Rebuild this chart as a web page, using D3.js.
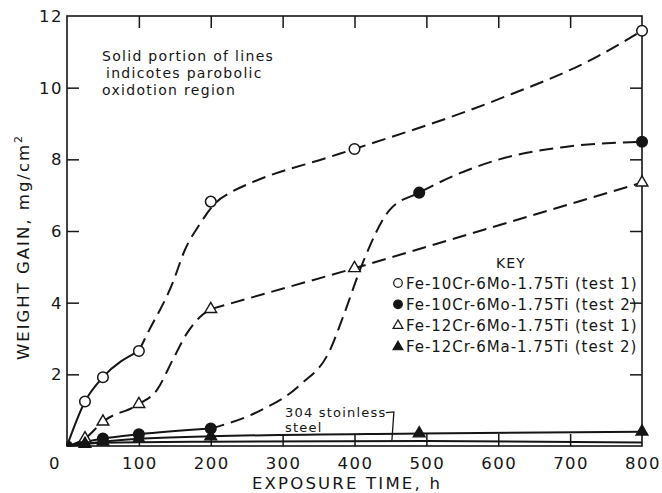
<!DOCTYPE html>
<html><head><meta charset="utf-8">
<script src="https://cdn.jsdelivr.net/npm/d3@7"></script>
<style>
body{margin:0;background:#fff}
svg{display:block}
text{font-family:"DejaVu Sans",sans-serif;fill:#151515}
</style>
</head><body>
<svg id="c" width="662" height="493"></svg>
<script>
// ---------- data ----------
const xTickValues = [0, 100, 200, 300, 400, 500, 600, 700, 800];
const yTickValues = [2, 4, 6, 8, 10, 12];
const seriesLabels = [
  "Fe-10Cr-6Mo-1.75Ti (test 1)",
  "Fe-10Cr-6Mo-1.75Ti (test 2)",
  "Fe-12Cr-6Mo-1.75Ti (test 1)",
  "Fe-12Cr-6Ma-1.75Ti (test 2)"
];
// measured points (markers)
const fe10t1Hours = [25, 50, 100, 200, 400, 800];
const fe10t1Gain  = [1.24, 1.92, 2.65, 6.82, 8.29, 11.59];
const fe10t2Hours = [50, 100, 200, 490, 800];
const fe10t2Gain  = [0.21, 0.33, 0.49, 7.07, 8.49];
const fe12t1Hours = [25, 50, 100, 200, 400, 800];
const fe12t1Gain  = [0.21, 0.68, 1.17, 3.82, 4.96, 7.35];
const fe12t2Hours = [25, 50, 100, 200, 490, 800];
const fe12t2Gain  = [0.06, 0.12, 0.2, 0.27, 0.35, 0.40];
// traced curves (hours, gain)
const fe10t1Solid  = [[0,0],[25,1.24],[50,1.92],[100,2.65]];
const fe10t1Dashed = [[100,2.65],[111,3.10],[147,4.55],[164,5.47],[185,6.2],[205,6.75],[230,7.1],[259,7.37],[366,8.07],[400,8.29],[598,9.66],[737,10.86],[800,11.59]];
const fe10t2Solid  = [[0,0],[50,0.21],[100,0.33],[200,0.49]];
const fe10t2Dashed = [[200,0.49],[268,0.98],[324,1.70],[366,2.68],[384,3.6],[412,5.14],[449,6.59],[490,7.07],[598,7.98],[690,8.34],[800,8.49]];
const fe12t1DashedCurve = [[0,0],[25,0.21],[50,0.68],[100,1.17],[125,1.56],[147,2.40],[167,3.15],[185,3.60],[200,3.82]];
const fe12t1DashedStraight = [[200,3.82],[400,4.96],[800,7.35]];
const fe12t2Solid  = [[0,0],[25,0.06],[50,0.12],[100,0.2],[200,0.27],[490,0.35],[800,0.40]];
const steel304Solid = [[0,0],[50,0.09],[200,0.12],[500,0.14],[800,0.10]];
const noteLines = ["Solid portion of lines", "indicotes parobolic", "oxidotion region"];
const steelLabel = ["304 stoinless", "steel"];

// ---------- layout ----------
const svg = d3.select("#c");
const x = d3.scaleLinear().domain([0, 800]).range([67, 642]);
const y = d3.scaleLinear().domain([0, 12]).range([446, 16]);
const ink = "#151515";

// frame
const [x0, x1] = x.range(), [y0, y1] = y.range();
svg.append("rect").attr("x", x0).attr("y", y1).attr("width", x1 - x0).attr("height", y0 - y1)
  .attr("fill", "none").attr("stroke", ink).attr("stroke-width", 1.6);

// axes with inward ticks
const tl = 12;
svg.append("g").attr("transform", `translate(0,${y0})`)
  .call(d3.axisTop(x).tickValues(xTickValues.slice(1, -1)).tickSize(tl).tickFormat(""))
  .call(g => g.select(".domain").remove());
svg.append("g").attr("transform", `translate(0,${y1})`)
  .call(d3.axisBottom(x).tickValues(xTickValues.slice(1, -1)).tickSize(tl).tickFormat(""))
  .call(g => g.select(".domain").remove());
svg.append("g").attr("transform", `translate(${x0},0)`)
  .call(d3.axisRight(y).tickValues(yTickValues.slice(0, -1)).tickSize(tl).tickFormat(""))
  .call(g => g.select(".domain").remove());
svg.append("g").attr("transform", `translate(${x1},0)`)
  .call(d3.axisLeft(y).tickValues(yTickValues.slice(0, -1)).tickSize(tl).tickFormat(""))
  .call(g => g.select(".domain").remove());
svg.selectAll(".tick line").attr("stroke", ink).attr("stroke-width", 1.5);

// tick labels
svg.append("g").selectAll("text").data(xTickValues).join("text")
  .attr("x", d => d === 0 ? x(d) - 12 : x(d) + 1)
  .attr("y", 469)
  .attr("text-anchor", "middle")
  .attr("font-size", 16.5).attr("letter-spacing", 1.5)
  .text(d => d);
svg.append("g").selectAll("text").data(yTickValues).join("text")
  .attr("x", 63).attr("y", d => y(d) + 6)
  .attr("text-anchor", "end")
  .attr("font-size", 16.5).attr("letter-spacing", 1.5)
  .text(d => d);

// axis titles
svg.append("text").attr("x", 347).attr("y", 489).attr("text-anchor", "middle")
  .attr("font-size", 16.5).attr("letter-spacing", 2.2).text("EXPOSURE TIME, h");
const yt = svg.append("text").attr("transform", "translate(29,247) rotate(-90)")
  .attr("text-anchor", "middle").attr("font-size", 16.5).attr("letter-spacing", 2);
yt.append("tspan").text("WEIGHT GAIN,  mg/cm");
yt.append("tspan").attr("dy", -7).attr("font-size", 11).text("2");

// note
svg.append("g").selectAll("text").data(noteLines).join("text")
  .attr("x", (d, i) => i === 1 ? 106 : 102).attr("y", (d, i) => 61 + i * 17)
  .attr("font-size", 14).attr("letter-spacing", 1.3).text(d => d);

// lines
const line = d3.line().x(d => x(d[0])).y(d => y(d[1])).curve(d3.curveMonotoneX);
const lineStraight = d3.line().x(d => x(d[0])).y(d => y(d[1]));
const solidSets = [fe10t1Solid, fe10t2Solid, fe12t2Solid, steel304Solid];
const dashedSets = [fe10t1Dashed, fe10t2Dashed, fe12t1DashedCurve];
svg.append("g").selectAll("path").data(solidSets).join("path")
  .attr("d", line).attr("fill", "none").attr("stroke", ink).attr("stroke-width", 2);
svg.append("g").selectAll("path").data(dashedSets).join("path")
  .attr("d", line).attr("fill", "none").attr("stroke", ink).attr("stroke-width", 2)
  .attr("stroke-dasharray", "14,7");
svg.append("path").datum(fe12t1DashedStraight)
  .attr("d", lineStraight).attr("fill", "none").attr("stroke", ink).attr("stroke-width", 2)
  .attr("stroke-dasharray", "14,7");

// markers
const tri = d3.symbol().type(d3.symbolTriangle).size(60);
const markerSets = [
  {h: fe10t1Hours, g: fe10t1Gain, kind: "circle", fill: "#fff"},
  {h: fe10t2Hours, g: fe10t2Gain, kind: "circle", fill: ink},
  {h: fe12t1Hours, g: fe12t1Gain, kind: "tri", fill: "#fff"},
  {h: fe12t2Hours, g: fe12t2Gain, kind: "tri", fill: ink}
];
markerSets.forEach(s => {
  const pts = s.h.map((h, i) => [h, s.g[i]]);
  const g = svg.append("g");
  if (s.kind === "circle") {
    g.selectAll("circle").data(pts).join("circle")
      .attr("cx", d => x(d[0])).attr("cy", d => y(d[1])).attr("r", 5.3)
      .attr("fill", s.fill).attr("stroke", ink).attr("stroke-width", 1.5);
  } else {
    g.selectAll("path").data(pts).join("path")
      .attr("d", tri).attr("transform", d => `translate(${x(d[0])},${y(d[1])})`)
      .attr("fill", s.fill).attr("stroke", ink).attr("stroke-width", 1.4);
  }
});
// origin blob
svg.append("circle").attr("cx", x(0) + 2).attr("cy", y(0) - 2).attr("r", 3).attr("fill", ink);

// 304 stainless label + leader
svg.append("g").selectAll("text").data(steelLabel).join("text")
  .attr("x", 285).attr("y", (d, i) => 417 + i * 14.5)
  .attr("font-size", 13).attr("letter-spacing", 1.2).text(d => d);
const lx = x(452), ly = y(0.14);
svg.append("path")
  .attr("d", `M${lx - 6},${y(0.93)} L${lx + 2},${y(0.95)} L${lx},${ly}`)
  .attr("fill", "none").attr("stroke", ink).attr("stroke-width", 1.3);

// legend
svg.append("text").attr("x", 511).attr("y", 268).attr("text-anchor", "middle")
  .attr("font-size", 14).attr("letter-spacing", 1.2).text("KEY");
const lg = svg.append("g").selectAll("g").data(seriesLabels).join("g")
  .attr("transform", (d, i) => `translate(398,${283 + i * 21.3})`);
lg.each(function(d, i) {
  const g = d3.select(this);
  if (i < 2) {
    g.append("circle").attr("r", 4.3).attr("fill", i === 0 ? "#fff" : ink)
      .attr("stroke", ink).attr("stroke-width", 1.2);
  } else {
    g.append("path").attr("d", d3.symbol().type(d3.symbolTriangle).size(42)())
      .attr("fill", i === 2 ? "#fff" : ink).attr("stroke", ink).attr("stroke-width", 1.2);
  }
  g.append("text").attr("x", 8).attr("y", 5.5).attr("font-size", 15)
    .attr("letter-spacing", 0.95).text(d);
});
</script>
</body></html>
